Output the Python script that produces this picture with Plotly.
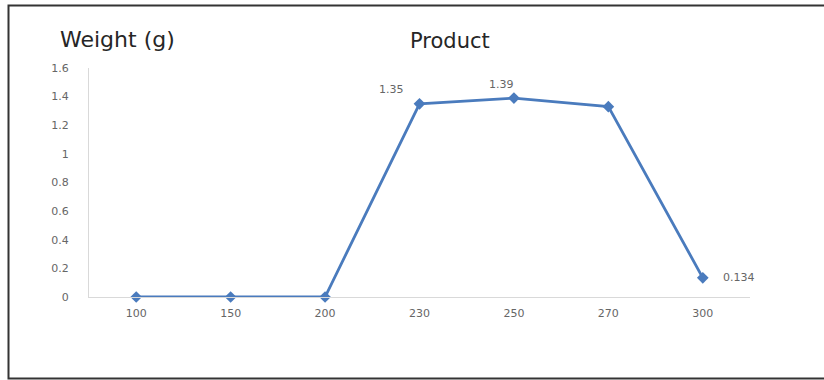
import plotly.graph_objects as go

# Product weight by size
sizes = ["100", "150", "200", "230", "250", "270", "300"]
weights = [0, 0, 0, 1.35, 1.39, 1.33, 0.134]
# value labels: (category index, text, x shift px, y shift px)
value_labels = [(3, "1.35", -28, 14), (4, "1.39", -12, 14), (6, "0.134", 36, 0)]
y_ticks = [0, 0.2, 0.4, 0.6, 0.8, 1, 1.2, 1.4, 1.6]

LINE = "#4a7bbd"
TICK = "#666666"
AXIS = "#d9d9d9"
TICKFONT = dict(family="DejaVu Sans", size=11, color=TICK)

fig = go.Figure()
fig.add_trace(go.Scatter(
    x=sizes, y=weights,
    mode="lines+markers",
    line=dict(color=LINE, width=2.8),
    marker=dict(symbol="diamond", size=9, color=LINE),
    cliponaxis=False, showlegend=False,
))

# category positions are given by index so numeric-looking names are not misread
annotations = [
    dict(x=i, y=weights[i], xref="x", yref="y", text=t,
         xshift=dx, yshift=dy, showarrow=False, font=TICKFONT)
    for i, t, dx, dy in value_labels
]
annotations += [
    dict(text="Weight (g)", xref="paper", yref="paper",
         x=(117 - 89) / 661, y=(297 - 40) / 229, xanchor="center", yanchor="middle",
         showarrow=False, font=dict(family="DejaVu Sans", size=22, color="#262626")),
    dict(text="Product", xref="paper", yref="paper",
         x=(450 - 89) / 661, y=(297 - 41) / 229, xanchor="center", yanchor="middle",
         showarrow=False, font=dict(family="DejaVu Sans", size=21, color="#262626")),
]

fig.update_layout(
    width=824, height=380,
    margin=dict(l=89, r=74, t=68, b=83),
    paper_bgcolor="white", plot_bgcolor="white",
    xaxis=dict(type="category", range=[-0.5, 6.5], showgrid=False,
               showline=True, linecolor=AXIS, linewidth=1, ticks="",
               tickfont=TICKFONT, ticklabelstandoff=6, zeroline=False),
    yaxis=dict(range=[0, 1.6], tickvals=y_ticks,
               ticktext=[f"{v:g}" for v in y_ticks],
               showgrid=False, showline=True, linecolor=AXIS, linewidth=1,
               ticks="", tickfont=TICKFONT, ticklabelstandoff=17, zeroline=False),
    annotations=annotations,
    shapes=[
        dict(type="rect", xref="paper", yref="paper",
             x0=(8.5 - 89) / 661, x1=(832 - 89) / 661,
             y0=(297 - 378.5) / 229, y1=(297 - 5.5) / 229,
             line=dict(color="#333333", width=2), fillcolor="rgba(0,0,0,0)", layer="below"),
    ],
)

fig.write_html("out.html")
